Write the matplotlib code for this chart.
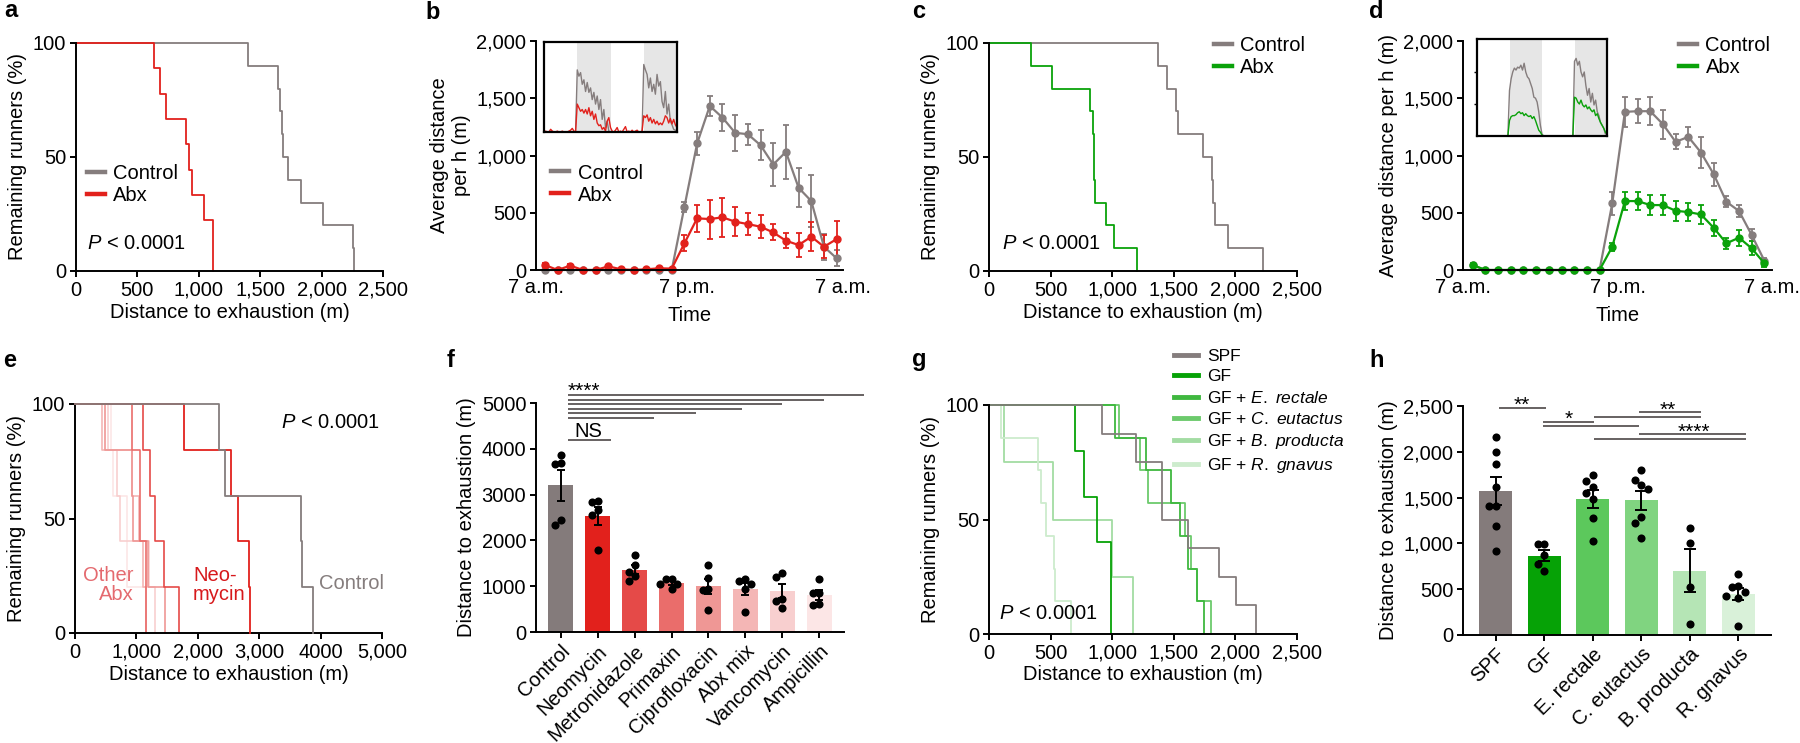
import numpy as np
import matplotlib
matplotlib.use('Agg')
import matplotlib.pyplot as plt
from matplotlib.lines import Line2D
from matplotlib.ticker import FuncFormatter

plt.rcParams['font.family'] = ['Liberation Sans', 'DejaVu Sans']
plt.rcParams['mathtext.fontset'] = 'custom'
plt.rcParams['mathtext.rm'] = 'Liberation Sans'
plt.rcParams['mathtext.it'] = 'Liberation Sans:italic'
plt.rcParams['font.size'] = 14.5

# -----------------------------------------------------------------------------
# Data
# -----------------------------------------------------------------------------
# a / c: distance to exhaustion per mouse (m)
a_control = [1402, 1646, 1659, 1681, 1687, 1727, 1836, 2012, 2256, 2264]
a_abx = [634, 683, 732, 892, 919, 946, 1044, 1112, 1117]
c_control = [1375, 1443, 1519, 1532, 1733, 1814, 1822, 1836, 1936, 2224]
c_abx = [344, 512, 819, 841, 851, 851, 860, 949, 1014, 1201]

# b / d: average distance per hour, mean and error
b_ctrl_mean = [0, 0, 0, 0, 0, 0, 0, 0, 0, 0, 0, 552, 1105, 1433, 1331, 1198,
               1186, 1090, 921, 1032, 718, 602, 203, 102]
b_ctrl_err = [0, 0, 0, 0, 0, 0, 0, 0, 0, 0, 0, 45, 100, 85, 115, 155, 90, 130,
              190, 235, 170, 230, 115, 70]
b_abx_mean = [44, 0, 38, 0, 0, 32, 6, 0, 6, 15, 12, 233, 451, 445, 460, 422,
              401, 378, 328, 256, 218, 291, 203, 270]
b_abx_err = [20, 0, 18, 0, 0, 15, 0, 0, 0, 0, 0, 70, 120, 170, 170, 125, 95,
             100, 70, 65, 105, 125, 100, 160]
d_ctrl_mean = [40, 0, 0, 0, 0, 0, 0, 0, 0, 0, 0, 581, 1381, 1387, 1387, 1273,
               1119, 1163, 1026, 837, 596, 515, 305, 81]
d_ctrl_err = [15, 0, 0, 0, 0, 0, 0, 0, 0, 0, 0, 100, 130, 105, 120, 125, 65,
              85, 135, 100, 50, 50, 55, 25]
d_abx_mean = [44, 0, 0, 0, 0, 0, 0, 0, 0, 0, 0, 203, 602, 602, 567, 567, 517,
              506, 485, 369, 233, 282, 189, 58]
d_abx_err = [20, 0, 0, 0, 0, 0, 0, 0, 0, 0, 0, 35, 75, 75, 85, 85, 85, 80, 85,
             70, 50, 70, 60, 30]
time_labels = ['7 a.m.', '7 p.m.', '7 a.m.']

# insets: activity traces over two days (0.6 h bins, arbitrary units)
b_inset_ctrl = [0] * 20 + [69, 62, 66, 53, 58, 45, 55, 44, 49, 36, 44, 31, 40,
                           25, 36, 14, 25, 5, 12, 1, 0] + [0] * 19 + \
               [75, 69, 64, 49, 60, 45, 53, 42, 64, 51, 56, 34, 27, 45, 20, 31,
                12, 8, 3, 2, 0]
b_inset_abx = [0, 1, 0, 0, 3, 1, 0, 0, 1, 0, 0, 1, 0, 0, 0, 1, 2, 4, 1, 0,
               31, 27, 23, 25, 21, 25, 20, 27, 18, 23, 14, 20, 10, 7, 8, 3, 5,
               1, 12, 16, 5,
               1, 0, 2, 5, 0, 1, 0, 3, 6, 0, 1, 0, 2, 0, 1, 2, 0, 0, 1,
               18, 16, 19, 12, 16, 10, 14, 9, 12, 8, 10, 8, 12, 18, 16, 10, 15,
               9, 14, 8, 5]
d_inset_ctrl = [0] * 20 + [47, 59, 66, 70, 68, 71, 70, 73, 68, 75, 66, 61, 59,
                           54, 49, 40, 39, 35, 25, 11, 2] + [0] * 19 + \
               [77, 80, 73, 77, 66, 61, 66, 52, 42, 49, 35, 44, 32, 37, 25, 21,
                14, 11, 8, 2, 4]
d_inset_abx = [0] * 20 + [16, 20, 21, 21, 22, 24, 25, 23, 24, 21, 23, 21, 20,
                          21, 18, 20, 16, 11, 6, 4, 1] + [0] * 19 + \
              [40, 39, 35, 33, 37, 32, 30, 32, 28, 30, 27, 25, 27, 21, 23, 18,
               14, 11, 8, 4, 2]

# e / f: antibiotic panel, distance per mouse (m)
f_groups = ['Control', 'Neomycin', 'Metronidazole', 'Primaxin',
            'Ciprofloxacin', 'Abx mix', 'Vancomycin', 'Ampicillin']
f_values = [
    [3872, 3675, 3690, 2343, 2438],
    [2853, 2838, 2656, 2547, 1783],
    [1688, 1456, 1310, 1113, 1223],
    [1164, 1164, 932, 1055, 1055],
    [1470, 1186, 946, 924, 488],
    [1113, 1164, 1041, 932, 437],
    [1201, 1295, 728, 531, 677],
    [1150, 852, 852, 582, 619],
]
f_colors = ['#847b7b', '#e2211c', '#e54a48', '#ea6d6b', '#ef9795', '#f4b6b5',
            '#f8cfcf', '#fce6e6']
e_xticklabels = ['0', '1,000', '2,000', '3,000', '4000', '5,000']

# g / h: gnotobiotic panel, distance per mouse (m)
h_groups = ['SPF', 'GF', 'E. rectale', 'C. eutactus', 'B. producta',
            'R. gnavus']
h_values = [
    [2165, 2001, 1863, 1612, 1408, 1408, 1194, 921],
    [993, 993, 873, 695, 771],
    [1747, 1685, 1612, 1554, 1481, 1274, 1026],
    [1801, 1692, 1638, 1590, 1292, 1226, 1055],
    [1172, 1001, 520, 120],
    [662, 539, 528, 466, 426, 400, 98],
]
h_colors = ['#847b7b', '#06a206', '#5cc85c', '#80d480', '#b5e5b5', '#d9f1d9']
g_line_colors = ['#857d7d', '#06a206', '#3fb83f', '#6cca6c', '#a3dca3',
                 '#cdeccd']
g_legend = ['SPF', 'GF', 'GF + $\\it{E.\\ rectale}$',
            'GF + $\\it{C.\\ eutactus}$', 'GF + $\\it{B.\\ producta}$',
            'GF + $\\it{R.\\ gnavus}$']

GRAY = '#857d7d'
RED = '#e2211c'
GREEN = '#0aa20a'
SIG = '#5a5555'

W, H = 1800, 743
fig = plt.figure(figsize=(W / 100, H / 100), dpi=100)


# -----------------------------------------------------------------------------
# Helpers
# -----------------------------------------------------------------------------
def add_ax(left, top, right, bottom):
    return fig.add_axes([left / W, 1 - bottom / H, (right - left) / W,
                         (bottom - top) / H])


def style(ax):
    for s in ('top', 'right'):
        ax.spines[s].set_visible(False)
    for s in ('left', 'bottom'):
        ax.spines[s].set_linewidth(1.4)
    ax.tick_params(direction='out', length=4, width=1.4, labelsize=14.5,
                   pad=3)


comma = FuncFormatter(lambda v, p: f'{int(v):,}')


def km(ax, vals, color, lw=1.3, zorder=2):
    v = np.sort(np.asarray(vals, float))
    n = len(v)
    x = np.concatenate([[0], v])
    y = 100 * np.concatenate([[n], n - np.arange(1, n + 1)]) / n
    ax.step(x, y, where='post', color=color, lw=lw, zorder=zorder,
            clip_on=False)


def km_axes(ax, xmax=2500, xstep=500):
    style(ax)
    ax.set_xlim(0, xmax)
    ax.set_ylim(0, 100)
    ax.set_xticks(np.arange(0, xmax + 1, xstep))
    ax.xaxis.set_major_formatter(comma)
    ax.set_yticks([0, 50, 100])
    ax.set_xlabel('Distance to exhaustion (m)', labelpad=2)
    ax.set_ylabel('Remaining runners (%)', labelpad=4)


def pval(ax, x, y, ha='left'):
    ax.text(x, y, '$\\it{P}$ < 0.0001', transform=ax.transAxes, ha=ha,
            va='center', fontsize=14.5)


def two_legend(ax, labels, colors, anchor):
    handles = [Line2D([], [], color=c, lw=3.2) for c in colors]
    ax.legend(handles, labels, loc='upper left', bbox_to_anchor=anchor,
              frameon=False, borderpad=0, borderaxespad=0, handlelength=0.9,
              handletextpad=0.4, labelspacing=0.15, fontsize=14.5)


def hourly(ax, ctrl_m, ctrl_e, abx_m, abx_e, abx_color, xlim, label_x):
    style(ax)
    xi = np.arange(len(ctrl_m))
    for m, e, c in ((ctrl_m, ctrl_e, GRAY), (abx_m, abx_e, abx_color)):
        ax.errorbar(xi, m, yerr=e, color=c, marker='o', ms=5, lw=1.6,
                    elinewidth=1.3, capsize=2, capthick=1.3, clip_on=False)
    ax.set_xlim(*xlim)
    ax.set_ylim(0, 2000)
    ax.set_yticks(np.arange(0, 2001, 500))
    ax.yaxis.set_major_formatter(comma)
    ax.set_xticks(label_x)
    ax.set_xticklabels(time_labels)
    ax.tick_params(axis='x', length=0, pad=6)
    ax.set_xlabel('Time', labelpad=6)


def inset(box, ctrl, abx, abx_color, left_ticks=False):
    axi = add_ax(*box)
    t = np.arange(len(ctrl)) * 0.6
    axi.axvspan(12, 24, color='#e6e6e6', lw=0)
    axi.axvspan(36, 48, color='#e6e6e6', lw=0)
    axi.plot(t, ctrl, color=GRAY, lw=1.0)
    axi.plot(t, abx, color=abx_color, lw=1.0)
    axi.set_xlim(0, 48)
    axi.set_ylim(0, 100)
    axi.set_xticks([])
    if left_ticks:
        axi.set_yticks([33, 66])
        axi.set_yticklabels([])
        axi.tick_params(axis='y', length=2, width=1)
    else:
        axi.set_yticks([])
    for s in axi.spines.values():
        s.set_linewidth(1.6)
        s.set_color('black')
    return axi


def swarm(vals, thresh, step):
    vals = np.asarray(vals, float)
    offs = np.zeros(len(vals))
    placed = []
    for i in np.argsort(vals)[::-1]:
        near = [o for v, o in placed if abs(v - vals[i]) < thresh]
        for cand in (0, -step, step, -2 * step, 2 * step):
            if all(abs(cand - o) > 1e-9 for o in near):
                break
        offs[i] = cand
        placed.append((vals[i], cand))
    return offs


def bar_dots(ax, groups, values, colors, thresh, step, capsize):
    style(ax)
    for i, (vals, c) in enumerate(zip(values, colors)):
        v = np.asarray(vals, float)
        mean = v.mean()
        sem = v.std(ddof=1) / np.sqrt(len(v))
        ax.bar(i, mean, width=0.68, color=c, zorder=1)
        ax.scatter(i + swarm(v, thresh, step), v, s=34, color='black',
                   zorder=3, lw=0, clip_on=False)
        ax.errorbar(i, mean, yerr=sem, color='black', lw=0, elinewidth=1.4,
                    capsize=capsize, capthick=1.4, zorder=4)
    ax.set_xlim(-0.67, len(groups) - 0.33)
    ax.set_xticks(range(len(groups)))
    ax.set_xticklabels(groups, rotation=45, ha='right',
                       rotation_mode='anchor')
    ax.set_ylabel('Distance to exhaustion (m)', labelpad=4)


def sig_line(ax, x0, x1, y):
    ax.plot([x0, x1], [y, y], color=SIG, lw=1.3, clip_on=False,
            solid_capstyle='butt')


# -----------------------------------------------------------------------------
# a
# -----------------------------------------------------------------------------
ax = add_ax(76, 43, 383, 271)
km_axes(ax)
km(ax, a_control, GRAY)
km(ax, a_abx, RED)
two_legend(ax, ['Control', 'Abx'], [GRAY, RED], (0.035, 0.47))
pval(ax, 0.036, 0.12)

# b
ax = add_ax(536, 41, 843, 270)
hourly(ax, b_ctrl_mean, b_ctrl_err, b_abx_mean, b_abx_err, RED,
       (-0.7, 23.5), [-0.7, 11.2, 23.5])
ax.set_ylabel('Average distance\nper h (m)', labelpad=4)
two_legend(ax, ['Control', 'Abx'], [GRAY, RED], (0.05, 0.465))
inset((544, 42, 677, 132), b_inset_ctrl, b_inset_abx, RED)

# c
ax = add_ax(989, 43, 1297, 271)
km_axes(ax)
km(ax, c_control, GRAY)
km(ax, c_abx, GREEN)
two_legend(ax, ['Control', 'Abx'], [GRAY, GREEN], (0.73, 1.03))
pval(ax, 0.042, 0.12)

# d
ax = add_ax(1463, 41, 1772, 270)
hourly(ax, d_ctrl_mean, d_ctrl_err, d_abx_mean, d_abx_err, GREEN,
       (-0.77, 23.6), [-0.77, 11.47, 23.6])
ax.set_ylabel('Average distance per h (m)', labelpad=4)
two_legend(ax, ['Control', 'Abx'], [GRAY, GREEN], (0.7, 1.02))
inset((1477, 39, 1607, 136), d_inset_ctrl, d_inset_abx, GREEN,
      left_ticks=True)

# e
ax = add_ax(75, 404, 382, 633)
km_axes(ax, xmax=5000, xstep=1000)
ax.set_xticklabels(e_xticklabels)
for vals, c in list(zip(f_values[2:], f_colors[2:]))[::-1]:
    km(ax, vals, c, lw=1.2)
km(ax, f_values[1], RED, lw=1.3, zorder=3)
km(ax, f_values[0], GRAY, lw=1.3, zorder=3)
pval(ax, 0.993, 0.92, ha='right')
ax.text(0.19, 0.21, 'Other\nAbx', transform=ax.transAxes, ha='right',
        va='center', color='#e46a6f', fontsize=14.5, linespacing=1.05)
ax.text(0.384, 0.21, 'Neo-\nmycin', transform=ax.transAxes, ha='left',
        va='center', color='#d7191c', fontsize=14.5, linespacing=1.05)
ax.text(0.795, 0.218, 'Control', transform=ax.transAxes, ha='left',
        va='center', color=GRAY, fontsize=14.5)

# f
ax = add_ax(536, 403, 844, 632)
bar_dots(ax, f_groups, f_values, f_colors, thresh=180, step=0.16, capsize=3)
ax.set_ylim(0, 5000)
ax.set_yticks(np.arange(0, 5001, 1000))
for y, x1 in zip([5175, 5066, 4978, 4869, 4782, 4672],
                 [8.2, 7.14, 6.0, 4.9, 3.65, 2.53]):
    sig_line(ax, 0.19, x1, y)
ax.text(0.19, 5141, '****', ha='left', va='baseline', fontsize=15,
        clip_on=False)
sig_line(ax, 0.19, 1.35, 4192)
ax.text(0.74, 4257, 'NS', ha='center', va='baseline', fontsize=14.5)

# g
ax = add_ax(989, 405, 1297, 634)
km_axes(ax)
order = [4, 5, 3, 2, 1, 0]
for i in order:
    km(ax, h_values[i], g_line_colors[i])
handles = [Line2D([], [], color=c, lw=3.5) for c in g_line_colors]
ax.legend(handles, g_legend, loc='upper left', bbox_to_anchor=(0.6, 1.245),
          frameon=False, borderpad=0, borderaxespad=0, handlelength=1.4,
          handletextpad=0.5, labelspacing=0.3, fontsize=12.5)
pval(ax, 0.032, 0.09)

# h
ax = add_ax(1463, 406, 1771, 635)
bar_dots(ax, h_groups, h_values, h_colors, thresh=120, step=0.13,
         capsize=4)
ax.set_ylim(0, 2500)
ax.set_yticks(np.arange(0, 2501, 500))
ax.yaxis.set_major_formatter(comma)
for x0, x1, y in [(0.08, 1.03, 2479), (0.97, 2.02, 2326), (0.97, 2.95, 2282),
                  (2.02, 4.23, 2380), (2.95, 4.23, 2435), (2.95, 5.15, 2195),
                  (2.02, 5.15, 2140)]:
    sig_line(ax, x0, x1, y)
for x, y, s in [(0.54, 2446, '**'), (1.5, 2299, '*'), (3.55, 2397, '**'),
                (4.08, 2157, '****')]:
    ax.text(x, y, s, ha='center', va='baseline', fontsize=15)

# panel letters
for s, x, y in [('a', 4, 17), ('b', 425, 19), ('c', 912, 18), ('d', 1369, 18),
                ('e', 3, 367), ('f', 447, 367), ('g', 912, 366),
                ('h', 1369, 367)]:
    fig.text(x / W, 1 - y / H, s, fontsize=17, fontweight='bold',
             va='baseline', ha='left')

fig.savefig('out.png', dpi=100)
